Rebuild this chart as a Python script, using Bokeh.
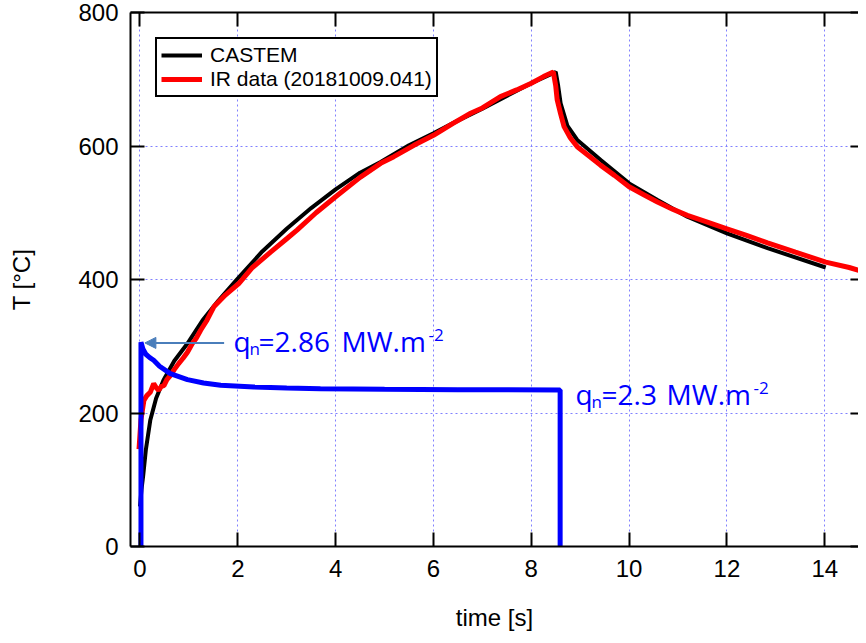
from bokeh.plotting import figure
from bokeh.models import Range1d, LinearAxis, FixedTicker, Legend, LegendItem, Arrow, NormalHead
from bokeh.core.properties import value
from bokeh.embed import file_html
from bokeh.resources import INLINE

# ---------------- data ----------------
x_ticks = [0, 2, 4, 6, 8, 10, 12, 14]
y_ticks = [0, 200, 400, 600, 800]

castem_t = [0.0, 0.03, 0.065, 0.12, 0.21, 0.33, 0.48, 0.7, 0.97, 1.28,
            1.6, 1.98, 2.5, 3.0, 3.5, 4.0, 4.5, 4.92, 5.5, 6.0,
            6.5, 7.0, 7.5, 8.0, 8.45, 8.5, 8.55, 8.6, 8.74, 8.94,
            9.42, 10.0, 10.58, 11.19, 12.0, 12.83, 14.02]
castem_T = [60, 85, 106, 145, 189, 222, 249, 278, 304, 339,
            368, 400, 442, 476, 507, 535, 560, 576, 601, 619,
            638, 656, 675, 694, 709, 711, 690, 664, 630, 609,
            579, 544, 519, 494, 469, 447, 418]

ir_t = [-0.02, 0.02, 0.08, 0.14, 0.21, 0.28, 0.33, 0.38, 0.44, 0.49,
        0.55, 0.62, 0.7, 0.79, 0.88, 0.97, 1.07, 1.15, 1.24, 1.37,
        1.51, 1.75, 2.02, 2.3, 2.67, 3.0, 3.21, 3.6, 4.0, 4.5,
        4.92, 5.19, 5.6, 6.0, 6.4, 6.76, 7.0, 7.37, 7.7, 8.0,
        8.25, 8.45, 8.5, 8.53, 8.6, 8.67, 8.8, 8.94, 9.2, 9.42,
        9.7, 10.0, 10.3, 10.58, 10.9, 11.19, 11.6, 12.0, 12.4, 12.83,
        13.4, 14.02, 14.5, 14.86]
ir_T = [146, 190, 219, 226, 231, 244, 238, 234, 240, 241,
        250, 256, 265, 274, 282, 291, 304, 312, 324, 339,
        359, 377, 394, 418, 441, 461, 474, 500, 524, 553,
        574, 584, 601, 616, 634, 649, 657, 674, 684, 694,
        704, 711, 690, 669, 648, 629, 612, 599, 584, 571,
        556, 539, 527, 516, 505, 496, 486, 476, 466, 455,
        441, 426, 418, 410]

q_t = [0.02, 0.02, 0.06, 0.12, 0.2, 0.28, 0.4, 0.62, 0.97, 1.3,
       1.65, 2.33, 3.0, 3.69, 5.0, 6.5, 8.59, 8.59]
q_T = [0, 306, 296, 288, 283, 279, 270, 259, 250, 245,
       241.5, 239, 237.5, 236.5, 235.5, 235, 234.5, 0]

# ---------------- figure ----------------
p = figure(width=858, height=635,
           x_range=Range1d(-0.194, 14.69), y_range=Range1d(0, 800),
           output_backend="svg", toolbar_location=None,
           min_border_left=130, min_border_right=0,
           min_border_top=12, min_border_bottom=89,
           x_axis_label="time [s]", y_axis_label="T [°C]")
p.outline_line_color = None
p.background_fill_color = "white"
p.border_fill_color = "white"

FONT = "Liberation Sans"
for ax in list(p.xaxis) + list(p.yaxis):
    ax.axis_line_width = 2
    ax.axis_line_color = "black"
    ax.major_tick_in = 14
    ax.major_tick_out = 0
    ax.major_tick_line_width = 2
    ax.major_tick_line_color = "black"
    ax.minor_tick_line_color = None
    ax.major_label_text_font = FONT
    ax.major_label_text_font_size = "24px"
    ax.major_label_text_color = "black"
    ax.axis_label_text_font = FONT
    ax.axis_label_text_font_style = "normal"
    ax.axis_label_text_color = "black"
    ax.axis_label_text_font_size = "24px"

p.xaxis.ticker = FixedTicker(ticks=x_ticks)
p.yaxis.ticker = FixedTicker(ticks=y_ticks)
p.xaxis.major_label_standoff = 13
p.xaxis.axis_label_standoff = 24
p.yaxis.major_label_standoff = 12
p.yaxis.axis_label_standoff = 40

top = LinearAxis(ticker=FixedTicker(ticks=x_ticks), major_label_text_font_size="1px",
                 major_label_text_color=None,
                 major_tick_in=14, major_tick_out=0, major_tick_line_width=2,
                 axis_line_width=2, minor_tick_line_color=None, major_label_standoff=0)
p.add_layout(top, "above")
right = LinearAxis(ticker=FixedTicker(ticks=y_ticks), major_label_text_font_size="1px",
                   major_label_text_color=None,
                   axis_line_color=None, major_tick_in=8, major_tick_out=0,
                   major_tick_line_width=2, minor_tick_line_color=None, major_label_standoff=0)
p.add_layout(right, "right")

p.xgrid.ticker = FixedTicker(ticks=x_ticks)
p.ygrid.ticker = FixedTicker(ticks=[200, 400, 600])
for g in (p.xgrid, p.ygrid):
    g.grid_line_color = "#8080ff"
    g.grid_line_dash = "2 3"
    g.grid_line_width = 1

# ---------------- lines ----------------
r_black = p.line(castem_t, castem_T, line_color="black", line_width=4)
r_red = p.line(ir_t, ir_T, line_color="#ff0000", line_width=5)
p.line(q_t, q_T, line_color="#0000ff", line_width=5)

legend = Legend(items=[LegendItem(label="CASTEM", renderers=[r_black]),
                       LegendItem(label="IR data (20181009.041)", renderers=[r_red])],
                location="top_left", margin=25, padding=4, spacing=-2,
                label_height=20, glyph_height=20, glyph_width=41, label_standoff=8,
                label_text_line_height=1.0,
                border_line_color="black", border_line_width=2, border_line_alpha=1.0,
                label_text_font=FONT, label_text_font_size="21px", label_text_color="black",
                background_fill_alpha=1.0)
p.add_layout(legend)

# ---------------- annotations ----------------
ANN = value("Open Sans")
BLUE = "#0000ff"

def qlabel(x0, y0, num, off_eq, off_mw, off_sup):
    common = dict(text_font=ANN, text_color=BLUE, text_baseline="middle", text_align="left")
    p.text(x=[x0], y=[y0], text=["q"], text_font_size="28px", **common)
    p.text(x=[x0], y=[y0], text=["n"], x_offset=16, y_offset=8, text_font_size="17px", **common)
    p.text(x=[x0], y=[y0], text=["=" + num], x_offset=off_eq, text_font_size="28px", **common)
    p.text(x=[x0], y=[y0], text=["MW.m"], x_offset=off_mw, text_font_size="28px", **common)
    p.text(x=[x0], y=[y0], text=["-2"], x_offset=off_sup, y_offset=-6, text_font_size="17px", **common)

qlabel(1.912, 308, "2.86", 25, 108, 195)
qlabel(8.906, 229, "2.3", 26, 91, 178)

ARROW = "#4a7ebb"
p.add_layout(Arrow(end=NormalHead(size=11, fill_color=ARROW, line_color=ARROW),
                   x_start=1.72, y_start=305, x_end=0.1, y_end=305,
                   line_color=ARROW, line_width=2))

open("out.html", "w").write(file_html(p, INLINE))
